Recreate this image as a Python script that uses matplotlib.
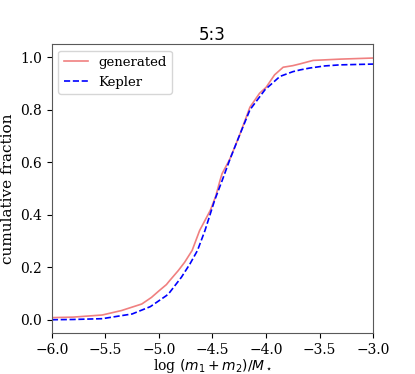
import numpy as np
import matplotlib
matplotlib.use('Agg')
import matplotlib.pyplot as plt

plt.rcParams['font.family'] = 'DejaVu Serif'
plt.rcParams['mathtext.fontset'] = 'dejavusans'

# log total mass vs cumulative fraction
gen_x = [-6.0, -5.8, -5.53, -5.35, -5.16, -5.07, -5.0, -4.93, -4.9, -4.82,
         -4.76, -4.69, -4.62, -4.52, -4.47, -4.43, -4.41, -4.34, -4.25,
         -4.15, -4.06, -4.0, -3.92, -3.84, -3.75, -3.68, -3.56, -3.3, -3.0]
gen_y = [0.008, 0.01, 0.018, 0.035, 0.06, 0.085, 0.11, 0.134, 0.149, 0.187,
         0.219, 0.264, 0.34, 0.417, 0.47, 0.53, 0.557, 0.61, 0.70,
         0.81, 0.863, 0.885, 0.933, 0.962, 0.968, 0.975, 0.988, 0.993, 0.997]

kep_x = [-6.0, -5.8, -5.53, -5.25, -5.08, -4.93, -4.9, -4.79, -4.71, -4.64,
         -4.57, -4.48, -4.41, -4.34, -4.25, -4.15, -4.01, -3.87, -3.75,
         -3.68, -3.59, -3.45, -3.31, -3.0]
kep_y = [0.0, 0.001, 0.004, 0.022, 0.05, 0.092, 0.104, 0.162, 0.213, 0.264,
         0.34, 0.455, 0.53, 0.608, 0.70, 0.80, 0.876, 0.927, 0.945,
         0.952, 0.959, 0.967, 0.971, 0.974]

fig, ax = plt.subplots(1, 1, figsize=[4.15, 3.74], dpi=100)
ax.plot(gen_x, gen_y, '-', color='lightcoral', lw=1.2, label='generated')
ax.plot(kep_x, kep_y, '--', color='b', lw=1.2, label='Kepler')

ax.set_xlim(-6, -3)
ax.set_ylim(-0.05, 1.05)
ax.set_xticks([-6.0, -5.5, -5.0, -4.5, -4.0, -3.5, -3.0])
ax.set_yticks([0.0, 0.2, 0.4, 0.6, 0.8, 1.0])
ax.set_xlabel(r'log $(m_1+m_2)/M_\star$', fontsize=10, labelpad=0)
ax.set_ylabel('cumulative fraction', fontsize=11)
ax.set_title('5:3', fontsize=12, family='DejaVu Sans', pad=3)
ax.tick_params(axis='both', which='major', labelsize=10)
for s in ax.spines.values():
    s.set_color('0.35')
ax.legend(loc='upper left', fontsize=9.5, handlelength=1.8)

fig.subplots_adjust(left=0.125, right=0.899, bottom=0.11, top=0.882)
plt.savefig('out.png')
plt.close(fig)
